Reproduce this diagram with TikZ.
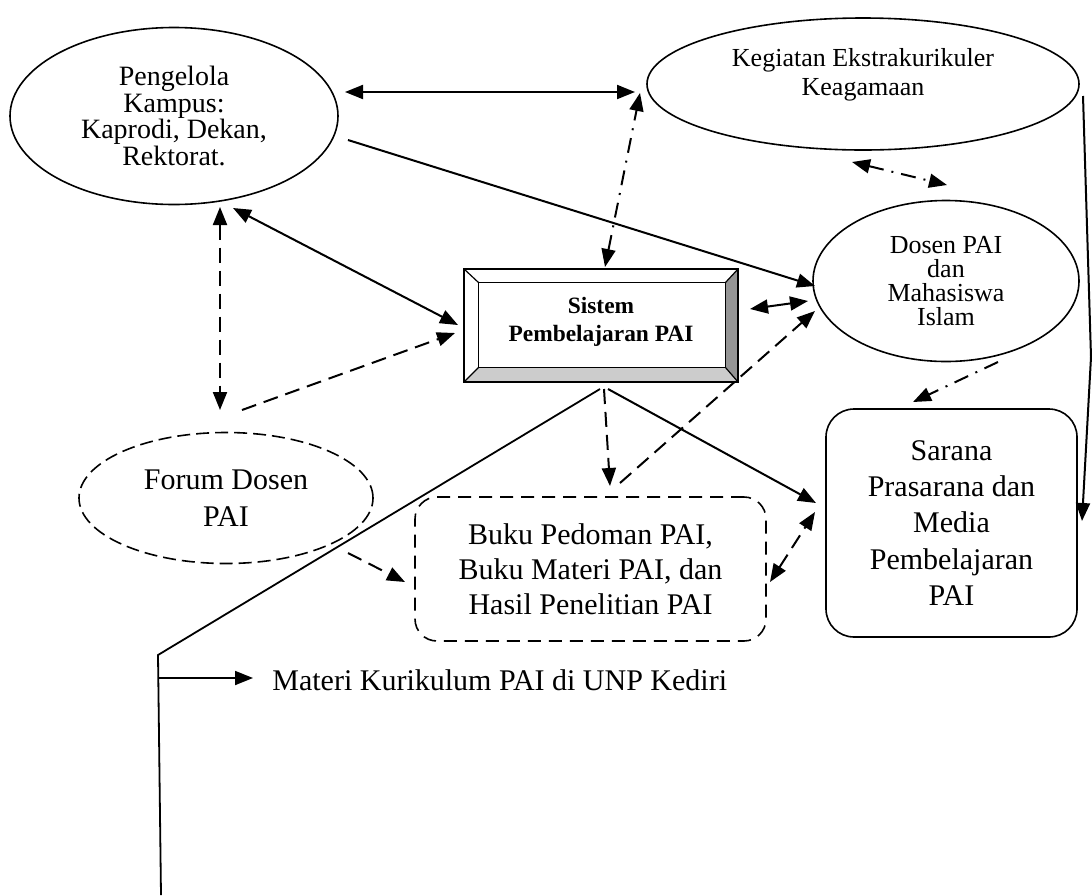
\documentclass[tikz,border=0pt]{standalone}
\usepackage{fontspec}
\setmainfont{Liberation Serif}
\usetikzlibrary{arrows.meta,shapes.geometric}
\newcommand{\bigtext}{\fontsize{15}{18.2}\selectfont}
\newcommand{\bktext}{\fontsize{15}{17.5}\selectfont}
\newcommand{\pktext}{\fontsize{14}{13.3}\selectfont}
\newcommand{\kgtext}{\fontsize{13}{14.5}\selectfont}
\newcommand{\dmtext}{\fontsize{13}{12}\selectfont}
\newcommand{\systext}{\fontsize{11.7}{14}\selectfont\bfseries}

\begin{document}
\begin{tikzpicture}[x=0.5pt,y=-0.5pt,
	oval/.style={ellipse, draw, line width=0.8pt, inner sep=0pt, align=center},
	roundbox/.style={draw, line width=0.8pt, rounded corners=14pt, align=center},
	link/.style={line width=1pt, -{Triangle[length=9pt,width=7pt]}},
	twoway/.style={line width=1pt, {Triangle[length=9pt,width=7pt]}-{Triangle[length=9pt,width=7pt]}},
	dashlink/.style={dash pattern=on 7.5pt off 4pt},
	dotlink/.style={dash pattern=on 7.5pt off 4pt on 1pt off 4pt}]
\useasboundingbox (0,0) rectangle (1092,895);

% nodes
\node[oval, minimum width=164pt, minimum height=88.5pt, font=\pktext] (pk) at (174,116) {Pengelola\\Kampus:\\Kaprodi, Dekan,\\Rektorat.};
\node[oval, minimum width=216pt, minimum height=66pt] (kg) at (863,84) {};
\node[font=\kgtext, align=center] (kgt) at (863,75) {Kegiatan Ekstrakurikuler\\Keagamaan};
\node[oval, minimum width=133pt, minimum height=80.5pt, font=\dmtext] (dm) at (946,281) {Dosen PAI\\dan\\Mahasiswa\\Islam};
\node[oval, dash pattern=on 6.5pt off 3pt, minimum width=147pt, minimum height=65.5pt, font=\bigtext] (fd) at (226,498) {Forum Dosen\\PAI};
\node[roundbox, rounded corners=11pt, dash pattern=on 6.5pt off 4pt, minimum width=175.5pt, minimum height=72pt, font=\bktext] (bk) at (590.5,569) {Buku Pedoman PAI,\\Buku Materi PAI, dan\\Hasil Penelitian PAI};
\node[roundbox, minimum width=125.5pt, minimum height=114pt, font=\bigtext] (sp) at (951.5,523) {Sarana\\Prasarana dan\\Media\\Pembelajaran\\PAI};
\node[font=\bigtext, anchor=base west, inner sep=0pt] (mk) at (272,690) {Materi Kurikulum PAI di UNP Kediri};

% bevelled box
\node[minimum width=137pt, minimum height=56.5pt, inner sep=0pt] (sys) at (601,325.5) {};
\coordinate (in-nw) at ([shift={(7.5pt,-7pt)}]sys.north west);
\coordinate (in-ne) at ([shift={(-6.5pt,-7pt)}]sys.north east);
\coordinate (in-se) at ([shift={(-6.5pt,7.5pt)}]sys.south east);
\coordinate (in-sw) at ([shift={(7.5pt,7.5pt)}]sys.south west);
\fill[black!20] (sys.south west) -- (sys.south east) -- (in-se) -- (in-sw) -- cycle;
\fill[black!42] (sys.south east) -- (sys.north east) -- (in-ne) -- (in-se) -- cycle;
\draw[line width=1pt] (sys.north west) rectangle (sys.south east);
\draw[line width=0.8pt] (in-nw) rectangle (in-se);
\draw[line width=0.6pt] (sys.north west) -- (in-nw) (sys.north east) -- (in-ne) (sys.south east) -- (in-se) (sys.south west) -- (in-sw);
\node[font=\systext, align=center] (syst) at ([yshift=1.75pt]sys.center) {Sistem\\Pembelajaran PAI};

% end points
\coordinate (pk-r) at (345,92);   \coordinate (kg-l) at (635,92);
\coordinate (pk-a) at (348,140);  \coordinate (dm-a) at (815,286);
\coordinate (pk-b) at (233,208);  \coordinate (sys-a) at (458,325);
\coordinate (pk-c) at (220,207);  \coordinate (fd-a) at (220,410);
\coordinate (fd-b) at (242,410);  \coordinate (sys-b) at (455,333);
\coordinate (sys-c) at (605,267); \coordinate (kg-b) at (640,93);
\coordinate (kg-c) at (852,162);  \coordinate (dm-c) at (947,185);
\coordinate (sys-d) at (750,309); \coordinate (dm-d) at (808,301);
\coordinate (bk-a) at (620,483);  \coordinate (dm-e) at (815,311);
\coordinate (sys-e) at (604,389); \coordinate (bk-b) at (610,486);
\coordinate (sys-f) at (608,389); \coordinate (sp-a) at (816,503);
\coordinate (fd-c) at (348,553);  \coordinate (bk-c) at (405,582);
\coordinate (bk-d) at (770,582);  \coordinate (sp-b) at (815,512);
\coordinate (dm-f) at (998,362);  \coordinate (sp-c) at (913,402);
\coordinate (kg-r) at (1083,96);  \coordinate (bend) at (1091,357); \coordinate (sp-r) at (1082,521);

% connectors
\draw[twoway] (pk-r) -- (kg-l);
\draw[link] (pk-a) -- (dm-a);
\draw[twoway] (pk-b) -- (sys-a);
\draw[twoway, dashlink] (pk-c) -- (fd-a);
\draw[link, dashlink] (fd-b) -- (sys-b);
\draw[twoway, dotlink] (sys-c) -- (kg-b);
\draw[twoway, dotlink] (kg-c) -- (dm-c);
\draw[twoway] (sys-d) -- (dm-d);
\draw[link, dashlink] (bk-a) -- (dm-e);
\draw[link, dashlink] (sys-e) -- (bk-b);
\draw[link] (sys-f) -- (sp-a);
\draw[link, dashlink] (fd-c) -- (bk-c);
\draw[twoway, dashlink] (bk-d) -- (sp-b);
\draw[link, dotlink] (dm-f) -- (sp-c);
\draw[link] (kg-r) -- (bend) -- (sp-r);

% curriculum tree
\coordinate (t0) at (600,389);
\coordinate (t1) at (158,655);
\coordinate (t2) at (161,895);
\coordinate (t3) at (158.3,678);
\coordinate (t4) at (253,678);
\draw[line width=0.9pt] (t0) -- (t1) -- (t2);
\draw[link, line width=0.9pt] (t3) -- (t4);
\end{tikzpicture}
\end{document}
